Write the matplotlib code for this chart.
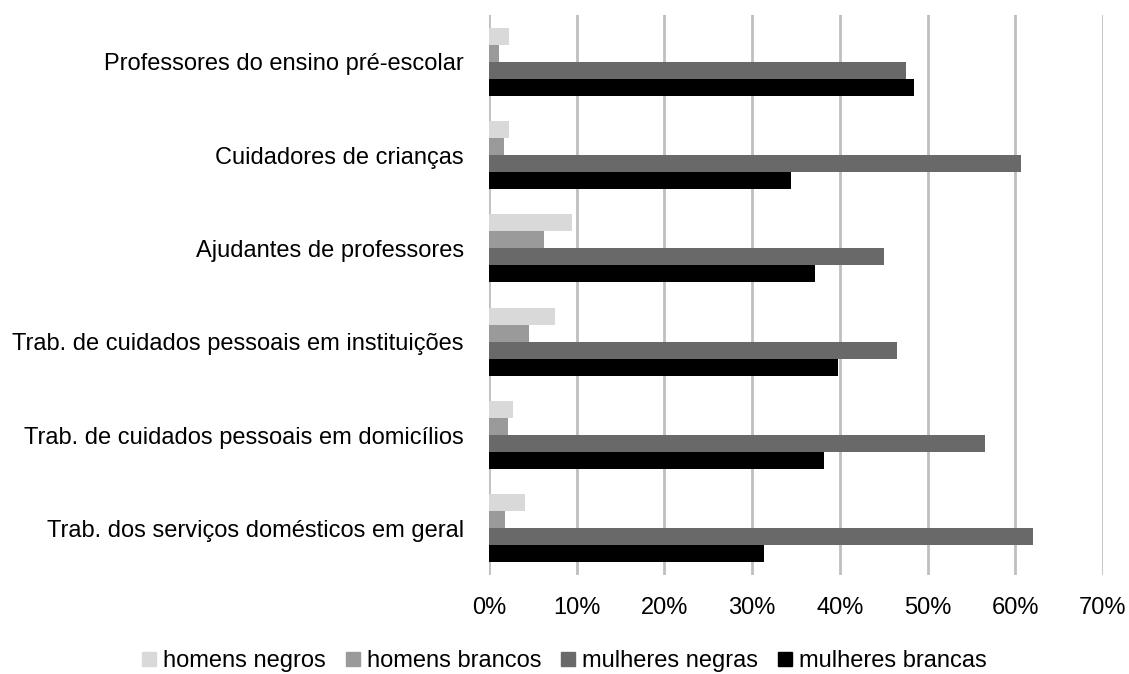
import numpy as np
import matplotlib; matplotlib.use("Agg")
import matplotlib.pyplot as plt
from matplotlib.patches import Rectangle
from matplotlib.ticker import FuncFormatter

plt.rcParams["font.family"] = ["Liberation Sans", "DejaVu Sans"]

categories = ["Professores do ensino pré-escolar", "Cuidadores de crianças",
              "Ajudantes de professores", "Trab. de cuidados pessoais em instituições",
              "Trab. de cuidados pessoais em domicílios", "Trab. dos serviços domésticos em geral"]
series = ["homens negros", "homens brancos", "mulheres negras", "mulheres brancas"]
homens_negros = [2.3, 2.3, 9.5, 7.5, 2.7, 4.1]
homens_brancos = [1.1, 1.7, 6.3, 4.6, 2.2, 1.8]
mulheres_negras = [47.5, 60.7, 45.0, 46.5, 56.6, 62.0]
mulheres_brancas = [48.4, 34.4, 37.2, 39.8, 38.2, 31.3]
colors = ["#d9d9d9", "#9a9a9a", "#696969", "#000000"]

W, H = 1129, 674
fig = plt.figure(figsize=(W/100, H/100), dpi=100)
ax = fig.add_axes([489/W, 1-575/H, (1103-489)/W, (575-15)/H])

vals = [homens_negros, homens_brancos, mulheres_negras, mulheres_brancas]
n = len(categories); h = 0.183
y = np.arange(n)
for k, (v, c, lab) in enumerate(zip(vals, colors, series)):
    ax.barh(y + (k-1.5)*h, np.array(v)/100, height=h, color=c, label=lab, zorder=3)

ax.set_ylim(n-0.5, -0.5)
ax.set_xlim(0, 0.7)
ax.set_xticks(np.arange(0, 0.71, 0.1))
ax.xaxis.set_major_formatter(FuncFormatter(lambda v, p: f"{v*100:.0f}%"))
ax.set_yticks(y)
ax.set_yticklabels(categories)
ax.tick_params(length=0, colors="#000", labelsize=17)
ax.tick_params(axis="x", pad=16)
ax.tick_params(axis="y", pad=18)
ax.grid(axis="x", color="#bfbfbf", lw=2, zorder=0)
for s in ax.spines.values(): s.set_visible(False)

# legend row laid out by hand so all labels share one baseline
r = fig.canvas.get_renderer()
fs, sq, tpad, gap, base = 17, 14, 7, 20, 667
texts = [fig.text(0, 1-base/H, lab, fontsize=fs, va="baseline") for lab in series]
tw = [t.get_window_extent(r).width for t in texts]
total = sum(sq + tpad + w for w in tw) + gap*(len(series)-1)
x = (W - total)/2
for t, w, c in zip(texts, tw, colors):
    fig.add_artist(Rectangle((x/W, 1-(base-1)/H), sq/W, sq/H, color=c, transform=fig.transFigure))
    t.set_x((x + sq + tpad)/W)
    x += sq + tpad + w + gap

fig.savefig("out.png", dpi=100)
